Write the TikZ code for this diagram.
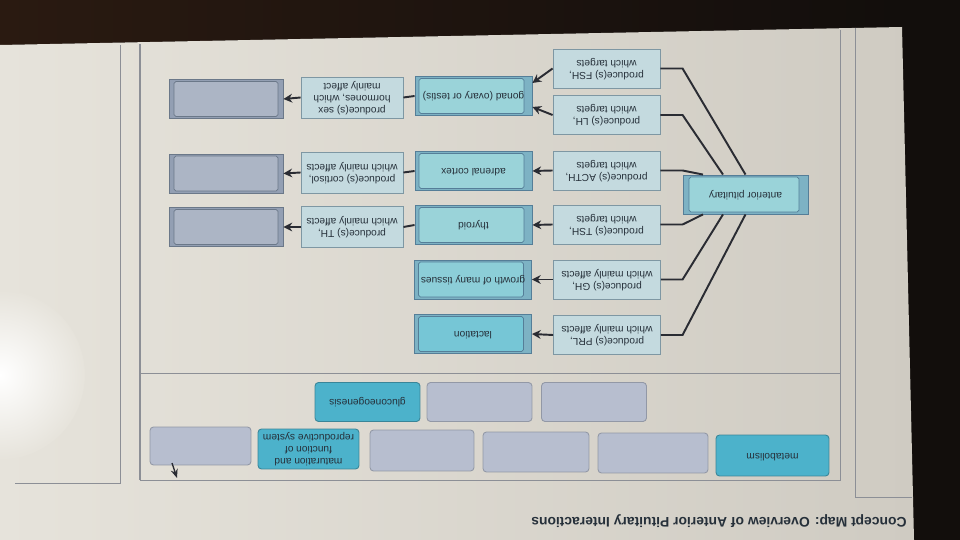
\documentclass[tikz,border=0pt]{standalone}
\usepackage{fontspec}
\setmainfont{Liberation Sans}
\usetikzlibrary{arrows.meta}

\definecolor{ink}{HTML}{26303A}
\definecolor{pale}{HTML}{C4DADF}
\definecolor{edge}{HTML}{7E97A3}
\definecolor{tealfill}{HTML}{9AD3D9}
\definecolor{tealdeep}{HTML}{76C6D6}
\definecolor{tealstrip}{HTML}{7DB2C4}
\definecolor{tealedge}{HTML}{557E98}
\definecolor{slate}{HTML}{ACB5C5}
\definecolor{slatestrip}{HTML}{939FB3}
\definecolor{slateedge}{HTML}{6B7889}
\definecolor{chipgray}{HTML}{B7BECF}
\definecolor{chipteal}{HTML}{4CB2CB}
\definecolor{linkc}{HTML}{2A2C33}
\definecolor{screenL}{HTML}{E6E3DB}
\definecolor{screenR}{HTML}{CFCBC2}
\definecolor{bezel}{HTML}{120E0C}
\definecolor{bezeltop}{HTML}{2A1A11}
\definecolor{rulec}{HTML}{8C8F96}

% text is upside down on the photographed screen
\newcommand{\upsd}[1]{\rotatebox{180}{\begin{tabular}{@{}c@{}}#1\end{tabular}}}

\begin{document}
\begin{tikzpicture}[x=0.02cm, y=-0.02cm,
  every node/.style={font=\fontsize{5.8}{6.8}\selectfont, text=ink, inner sep=0pt},
  box/.style={draw=edge, line width=0.5pt, minimum height=0.78cm},
  hbox/.style={box, fill=pale, minimum width=2.14cm},
  ebox/.style={box, fill=pale, minimum width=2.04cm, minimum height=0.82cm},
  tbox/.style={box, draw=tealedge, fill=tealstrip, minimum width=2.34cm,
    path picture={\filldraw[fill=#1, draw=tealedge, line width=0.4pt, rounded corners=1pt]
      ([shift={(0.08cm,-0.04cm)}]path picture bounding box.north west) rectangle
      ([shift={(-0.16cm,0.04cm)}]path picture bounding box.south east);}},
  tbox/.default=tealfill,
  pitbox/.style={box, draw=tealedge, fill=tealstrip, minimum width=2.5cm,
    path picture={\filldraw[fill=tealfill, draw=tealedge, line width=0.4pt, rounded corners=1pt]
      ([shift={(0.12cm,-0.04cm)}]path picture bounding box.north west) rectangle
      ([shift={(-0.18cm,0.04cm)}]path picture bounding box.south east);}},
  blank/.style={box, draw=slateedge, fill=slatestrip, minimum width=2.28cm,
    path picture={\filldraw[fill=slate, draw=slateedge, line width=0.4pt, rounded corners=1pt]
      ([shift={(0.1cm,-0.04cm)}]path picture bounding box.north west) rectangle
      ([shift={(-0.1cm,0.04cm)}]path picture bounding box.south east);}},
  chip/.style={rounded corners=2pt, line width=0.5pt, minimum width=2.1cm, minimum height=0.78cm},
  chipG/.style={chip, fill=chipgray, draw=chipgray!80!black},
  chipT/.style={chip, fill=chipteal, draw=chipteal!75!black},
  link/.style={draw=linkc, line width=1.1pt},
  arr/.style={link, -{Stealth[length=5pt,width=5pt]}},
  rule/.style={draw=rulec, line width=0.5pt}]

  \useasboundingbox (0,0) rectangle (960,540);

  % photo: bezel, screen and glare
  \fill[bezel] (0,0) rectangle (960,540);
  \shade[left color=bezeltop, right color=bezel] (0,0) -- (900,0) -- (902,27) -- (0,45) -- cycle;
  \shade[left color=screenL, right color=screenR]
    (0,45) -- (902,27) -- (914,540) -- (0,540) -- cycle;
  \shade[inner color=white, outer color=screenL] (0,375) circle [radius=1.7cm];

  % page columns and panel
  \draw[rule] (120,45) -- (120,483) -- (15,483);
  \draw[rule] (855,28) -- (855,497) -- (912,497);
  \draw[rule] (840,30) -- (840,480) -- (140,480);
  \draw[rulec, line width=1.2pt] (140,44) -- (140,480);
  \draw[rule] (140,373) -- (840,373);

  % title
  \node[font=\bfseries\fontsize{7.9}{9}\selectfont, anchor=east] (title) at (907,521)
    {\upsd{Concept Map: Overview of Anterior Pituitary Interactions}};

  % map
  \node[pitbox] (ap) at (745.5,194.5) {\upsd{anterior pituitary}};

  \node[hbox] (fsh)  at (606.5,68.5)  {\upsd{produce(s) FSH,\\which targets}};
  \node[hbox] (lh)   at (606.5,115)   {\upsd{produce(s) LH,\\which targets}};
  \node[hbox] (acth) at (606.5,170.5) {\upsd{produce(s) ACTH,\\which targets}};
  \node[hbox] (tsh)  at (606.5,224.5) {\upsd{produce(s) TSH,\\which targets}};
  \node[hbox] (gh)   at (607,279.5)   {\upsd{produce(s) GH,\\which mainly affects}};
  \node[hbox] (prl)  at (607,335)     {\upsd{produce(s) PRL,\\which mainly affects}};

  \node[tbox] (gonad)   at (473.5,96)    {\upsd{gonad (ovary or testis)}};
  \node[tbox] (adrenal) at (473.5,171)   {\upsd{adrenal cortex}};
  \node[tbox] (thyroid) at (473.5,225)   {\upsd{thyroid}};
  \node[tbox=tealfill!60!tealdeep] (growth) at (473,279.5) {\upsd{growth of many tissues}};
  \node[tbox=tealdeep] (lact) at (473,334) {\upsd{lactation}};

  \node[ebox] (sex)  at (352,97.5)  {\upsd{produce(s) sex\\hormones, which\\mainly affect}};
  \node[ebox] (cort) at (352,172.5) {\upsd{produce(s) cortisol,\\which mainly affects}};
  \node[ebox] (th)   at (352,227)   {\upsd{produce(s) TH,\\which mainly affects}};

  \node[blank] (blanksex)  at (226,99)    {};
  \node[blank] (blankcort) at (226,173.5) {};
  \node[blank] (blankth)   at (226,227)   {};

  \draw[link] (fsh.east)  -- (fsh.east -| ap.west)  -- (ap.north);
  \draw[link] (lh.east)   -- (lh.east -| ap.west)   -- ([shift={(-22.5,0)}]ap.north);
  \draw[link] (acth.east) -- (acth.east -| ap.west) -- ([shift={(-42.5,0)}]ap.north);
  \draw[link] (tsh.east)  -- (tsh.east -| ap.west)  -- ([shift={(-42.5,0)}]ap.south);
  \draw[link] (gh.east)   -- (gh.east -| ap.west)   -- ([shift={(-22.5,0)}]ap.south);
  \draw[link] (prl.east)  -- (prl.east -| ap.west)  -- (ap.south);

  \draw[arr] (fsh.west)  -- ([shift={(0,-13)}]gonad.east);
  \draw[arr] (lh.west)   -- ([shift={(0,11)}]gonad.east);
  \draw[arr] (acth.west) -- (adrenal.east);
  \draw[arr] (tsh.west)  -- (thyroid.east);
  \draw[arr] (gh.west)   -- (growth.east);
  \draw[arr] (prl.west)  -- (lact.east);

  \draw[link] (gonad.west)   -- (sex.east);
  \draw[link] (adrenal.west) -- (cort.east);
  \draw[link] (thyroid.west) -- (th.east);
  \draw[arr] (sex.west)  -- (blanksex.east);
  \draw[arr] (cort.west) -- (blankcort.east);
  \draw[arr] (th.west)   -- (blankth.east);

  % word bank
  \node[chipT] (gluco) at (367.5,402) {\upsd{gluconeogenesis}};
  \node[chipG] (bank2) at (479.5,402) {};
  \node[chipG] (bank3) at (594,402)   {};
  \node[chipG, minimum width=2.02cm, minimum height=0.76cm] (bank4) at (200.5,446) {};
  \node[chipT, minimum width=2.02cm, minimum height=0.8cm] (matur) at (308.5,449)
    {\upsd{maturation and\\function of\\reproductive system}};
  \node[chipG, minimum width=2.08cm, minimum height=0.82cm] (bank6) at (422,450.5) {};
  \node[chipG, minimum width=2.12cm, minimum height=0.8cm] (bank7) at (536,452) {};
  \node[chipG, minimum width=2.2cm, minimum height=0.8cm] (bank8) at (653,453) {};
  \node[chipT, minimum width=2.26cm, minimum height=0.82cm] (metab) at (772.5,455.5)
    {\upsd{metabolism}};

  % mouse pointer
  \coordinate (cursor) at (172,463);
  \draw[linkc, line width=0.8pt, -{Stealth[length=5pt,width=4pt]}] (cursor) -- ++(5,15);
\end{tikzpicture}
\end{document}
